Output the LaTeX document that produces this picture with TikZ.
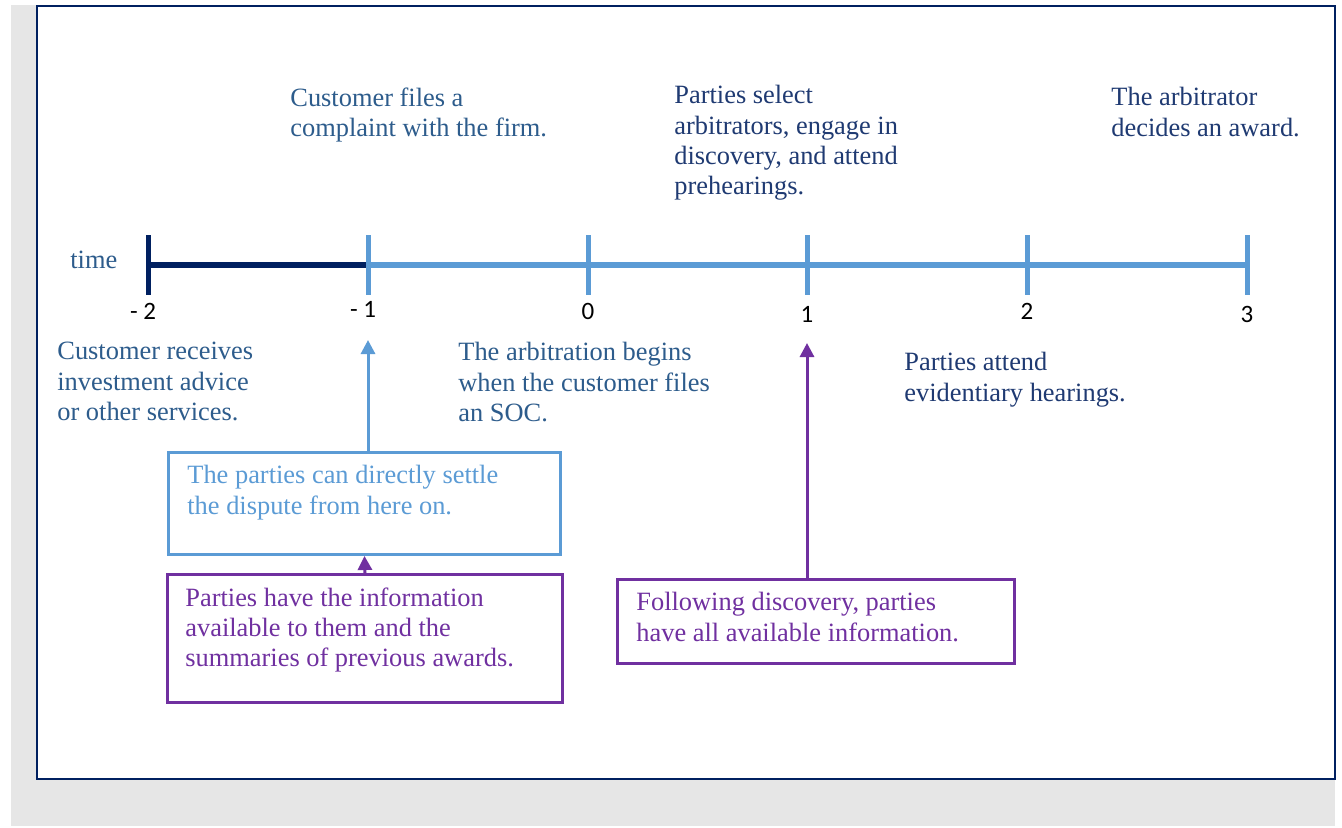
\documentclass[tikz,border=0pt]{standalone}
\usepackage{fontspec}
\setmainfont{Liberation Serif}
\newfontfamily\calibri{Carlito}
\usetikzlibrary{arrows.meta,positioning}

\definecolor{navy}{HTML}{002060}
\definecolor{lblue}{HTML}{5B9BD5}
\definecolor{purp}{HTML}{7030A0}
\definecolor{steel}{HTML}{2D5C8C}
\definecolor{dnavy}{HTML}{1F3A72}
\definecolor{bggray}{HTML}{E6E6E6}

\begin{document}
\begin{tikzpicture}[x=0.5pt,y=-0.5pt]
			\tikzstyle{Event}	= [anchor=north west, inner sep=0pt, align=left, font=\fontsize{13.2}{15.15}\selectfont]
			\tikzstyle{Num}		= [anchor=base, inner sep=0pt, font=\calibri\fontsize{12.5}{14}\selectfont]
			\tikzstyle{Tick}	= [line width=2.5pt, lblue]
			\tikzstyle{Box}		= [draw, line width=1.5pt, anchor=north west, inner sep=0pt]
			\tikzstyle{Up}		= [line width=1.5pt, -{Triangle[length=7pt,width=7pt]}]
			
			\useasboundingbox (0,0) rectangle (1342,827);
			\fill[bggray] (11,5) rectangle (1335,826);
			\draw[navy, line width=1pt, fill=white] (37,6) rectangle (1335,779);
			
			% time line
			\coordinate (tm2) at (148, 265);
			\coordinate (tm1) at (368, 265);
			\coordinate (t0)  at (588, 265);
			\coordinate (t1)  at (807, 265);
			\coordinate (t2)  at (1027, 265);
			\coordinate (t3)  at (1247, 265);
			
			\draw [line width=3pt, navy] (tm2) -- (tm1);
			\draw [line width=3pt, lblue] (tm1) -- (t3);
			\draw [line width=2.5pt, navy] (148,235) -- (148,295);
			\foreach \x in {368,588,807,1027,1247}
				\draw [Tick] (\x,235) -- (\x,295);
			
			\node (time) at (70,268) [anchor=base west, inner sep=0pt, steel, font=\fontsize{13.2}{15.15}\selectfont] {time};
			
			\node (nm2) at (143,319) [Num] {- 2};
			\node (nm1) at (363,317) [Num] {- 1};
			\node (n0)  at (588,319) [Num] {0};
			\node (n1)  at (807,322) [Num] {1};
			\node (n2)  at (1027,319) [Num] {2};
			\node (n3)  at (1247,322) [Num] {3};
			
			% events above
			\node (complaint) at (290,87)  [Event, steel] {Customer files a\\complaint with the firm.};
			\node (select)    at (674,85)  [Event, dnavy] {Parties select\\arbitrators, engage in\\discovery, and attend\\prehearings.};
			\node (award)     at (1111,87) [Event, dnavy] {The arbitrator\\decides an award.};
			
			% events below
			\node (advice)  at (57,342)  [Event, steel] {Customer receives\\investment advice\\or other services.};
			\node (soc)     at (458,342) [Event, steel] {The arbitration begins\\when the customer files\\an SOC.};
			\node (hearing) at (904,352) [Event, dnavy] {Parties attend\\evidentiary hearings.};
			
			% boxes
			\node (settle) at (167,451) [Box, lblue, minimum width=196pt, minimum height=51pt] {};
			\node (info)   at (166,573) [Box, purp, minimum width=197.5pt, minimum height=64pt] {};
			\node (full)   at (616,578) [Box, purp, minimum width=198.5pt, minimum height=42pt] {};
			
			\node (settletext) [Event, lblue, below right=7pt and 10pt of settle.north west] {The parties can directly settle\\the dispute from here on.};
			\node (infotext)   [Event, purp, below right=7pt and 9.5pt of info.north west] {Parties have the information\\available to them and the\\summaries of previous awards.};
			\node (fulltext)   [Event, purp, below right=7pt and 10pt of full.north west] {Following discovery, parties\\have all available information.};
			
			\coordinate (up1) at (368,340);
			\coordinate (up2) at (807,343);
			
			\draw [Up, lblue] (settle.north -| up1) -- (up1);
			\draw [Up, purp] (info.north) -- (settle.south);
			\draw [Up, purp] (full.north -| up2) -- (up2);
		\end{tikzpicture}
\end{document}
